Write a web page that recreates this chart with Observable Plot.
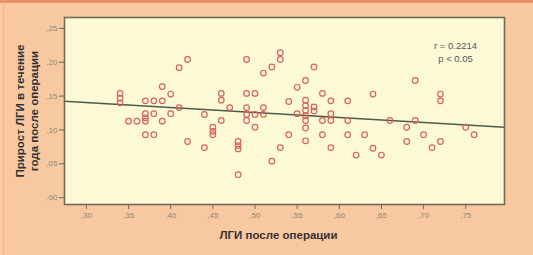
<!DOCTYPE html>
<html>
<head>
<meta charset="utf-8">
<script src="https://cdn.jsdelivr.net/npm/d3@7"></script>
<script src="https://cdn.jsdelivr.net/npm/@observablehq/plot@0.6"></script>
<style>
  html, body { margin: 0; padding: 0; background: #f8c8a0; }
  #wrap { position: relative; width: 533px; height: 255px; overflow: hidden; }
  #topband { position: absolute; left: 0; top: 0; width: 533px; height: 3px; background: #e8906a; }
  #leftline { position: absolute; left: 3px; top: 3px; width: 1px; height: 252px; background: #efb58e; }
</style>
</head>
<body>
<div id="wrap"><div id="topband"></div><div id="leftline"></div></div>
<script>
// ЛГИ после операции (x) and Прирост ЛГИ в течение года после операции (y)
const lgiAfter = [
  0.34,0.34,0.34, 0.35, 0.36,
  0.37,0.37,0.37,0.37,0.37,
  0.38,0.38,0.38,
  0.39,0.39,0.39,
  0.40,0.40,
  0.41,0.41,
  0.42,0.42,
  0.44,0.44,
  0.45,0.45,0.45,
  0.46,0.46,0.46,
  0.47,
  0.48,0.48,0.48,0.48,
  0.49,0.49,0.49,0.49,0.49,
  0.50,0.50,0.50,
  0.51,0.51,0.51,
  0.52,0.52,
  0.53,0.53,0.53,
  0.54,0.54,
  0.55,0.55,
  0.56,0.56,0.56,0.56,0.56,0.56,0.56,0.56,
  0.57,0.57,0.57,
  0.58,0.58,0.58,
  0.59,0.59,0.59,0.59,
  0.61,0.61,0.61,
  0.62, 0.63,
  0.64,0.64,
  0.65, 0.66,
  0.68,0.68,
  0.69,0.69,
  0.70, 0.71,
  0.72,0.72,0.72,
  0.75, 0.76
];
const lgiGain = [
  0.154,0.147,0.140, 0.113, 0.113,
  0.143,0.124,0.118,0.113,0.093,
  0.143,0.124,0.093,
  0.164,0.143,0.113,
  0.153,0.124,
  0.192,0.133,
  0.204,0.083,
  0.123,0.074,
  0.104,0.098,0.093,
  0.154,0.144,0.114,
  0.133,
  0.083,0.077,0.072,0.034,
  0.204,0.154,0.133,0.123,0.114,
  0.154,0.123,0.104,
  0.184,0.133,0.123,
  0.193,0.054,
  0.214,0.204,0.074,
  0.142,0.093,
  0.163,0.124,
  0.173,0.144,0.136,0.129,0.121,0.114,0.103,0.084,
  0.193,0.134,0.128,
  0.154,0.114,0.093,
  0.143,0.124,0.114,0.074,
  0.143,0.114,0.093,
  0.063, 0.093,
  0.153,0.073,
  0.063, 0.114,
  0.104,0.083,
  0.173,0.114,
  0.093, 0.074,
  0.153,0.143,0.083,
  0.104, 0.093
];
const xTicks = [0.30,0.35,0.40,0.45,0.50,0.55,0.60,0.65,0.70,0.75];
const yTicks = [0.00,0.05,0.10,0.15,0.20,0.25];
const xDomain = [0.274, 0.796];
const yDomain = [-0.010, 0.266];
const fitIntercept = 0.1627;
const fitSlope = -0.0738;
const statLines = ["r = 0.2214", "p < 0.05"];
const xTitle = "ЛГИ после операции";
const yTitle = "Прирост ЛГИ в течение\nгода после операции";

const points = lgiAfter.map((x, i) => ({x, y: lgiGain[i]}));
const fitLine = xDomain.map(x => ({x, y: fitIntercept + fitSlope * x}));
const fmt = v => d3.format(".2f")(v).replace(/^0\./, ",");

const chart = Plot.plot({
  width: 533,
  height: 255,
  marginLeft: 64,
  marginRight: 29,
  marginTop: 17,
  marginBottom: 51,
  style: {background: "transparent", fontFamily: "Liberation Sans, Arial, sans-serif"},
  x: {domain: xDomain, ticks: xTicks, tickFormat: fmt, label: null},
  y: {domain: yDomain, ticks: yTicks, tickFormat: fmt, label: null},
  marks: [
    Plot.frame({fill: "#fcfad6", stroke: null}),
    Plot.axisX({ticks: xTicks, tickFormat: fmt, tickSize: 5, tickPadding: 3, fontSize: 8, color: "#8a8878", stroke: "#6b6a55"}),
    Plot.axisY({ticks: yTicks, tickFormat: fmt, tickSize: 5, tickPadding: 2, fontSize: 8, color: "#8a8878", stroke: "#6b6a55"}),
    Plot.line(fitLine, {x: "x", y: "y", stroke: "#4f5a4c", strokeWidth: 1.6}),
    Plot.dot(points, {x: "x", y: "y", r: 2.8, stroke: "#d8625a", strokeWidth: 1.2, fill: "none"}),
    Plot.frame({stroke: "#6e6d55", strokeWidth: 1.6}),
    Plot.text([statLines.join("\n")], {frameAnchor: "top-right", dx: -49, dy: 23, textAnchor: "middle", lineAnchor: "top", fontSize: 9.5, lineHeight: 1.3, fill: "#555"}),
    Plot.text([xTitle], {frameAnchor: "bottom", dx: -6, dy: 34, fontSize: 11.5, fontWeight: "bold", fill: "#333"}),
    Plot.text([yTitle], {frameAnchor: "left", dx: -38, rotate: -90, textAnchor: "middle", lineAnchor: "middle", fontSize: 11.5, fontWeight: "bold", lineHeight: 1.25, fill: "#333"})
  ]
});
chart.style.position = "absolute";
chart.style.left = "0px";
chart.style.top = "0px";
document.getElementById("wrap").appendChild(chart);
</script>
</body>
</html>
